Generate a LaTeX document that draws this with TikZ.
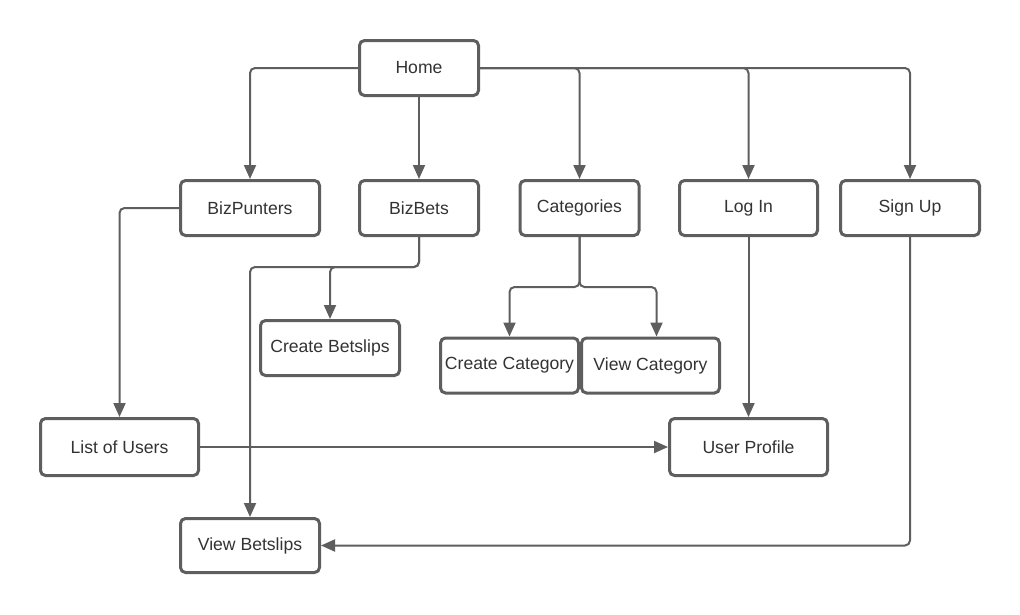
\documentclass[tikz,border=0pt]{standalone}
\usepackage{fontspec}
\setmainfont{Liberation Sans}
\usetikzlibrary{arrows.meta}
\definecolor{linegray}{HTML}{5E5E5E}
\definecolor{textgray}{HTML}{333333}
\begin{document}
\begin{tikzpicture}[x=1pt, y=-1pt,
  page/.style={draw=linegray, line width=3pt, rounded corners=5pt, fill=white,
    minimum width=139pt, minimum height=55pt, text=textgray,
    font=\fontsize{17.6}{20}\selectfont},
  link/.style={draw=linegray, line width=2pt, rounded corners=5pt,
    -{Triangle[length=14pt, width=12pt]}}]
\useasboundingbox (0,0) rectangle (1020,614);
\node[page, minimum width=119pt] (home) at (419,68) {Home};
\node[page] (punters) at (250,208) {BizPunters};
\node[page, minimum width=119pt] (bets) at (419,208) {BizBets};
\node[page, minimum width=119pt] (cats) at (579.5,208) {Categories};
\node[page, minimum width=138pt] (login) at (748.5,208) {Log In};
\node[page] (signup) at (910,208) {Sign Up};
\node[page] (newslip) at (330,348) {Create Betslips};
\node[page, minimum width=138pt] (newcat) at (509.5,365.5) {Create Category};
\node[page, minimum width=138pt] (viewcat) at (650.5,365.5) {View Category};
\node[page, minimum width=158pt, minimum height=57pt] (users) at (119.5,447) {List of Users};
\node[page, minimum width=158pt, minimum height=57pt] (profile) at (748.5,447) {User Profile};
\node[page, minimum height=54pt] (viewslip) at (250,545.5) {View Betslips};
% from the home page
\draw[link] (home.west) -| (punters.north);
\draw[link] (home.south) -- (bets.north);
\draw[link] (home.east) -| (cats.north);
\draw[link] (home.east) -| (login.north);
\draw[link] (home.east) -| (signup.north);
% second level
\draw[link] (punters.west) -| (users.north);
\draw[link] (bets.south) -- ++(0,30) -| (viewslip.north);
\draw[link] (bets.south) -- ++(0,30) -| (newslip.north);
\draw[link] (cats.south) -- ++(0,50) -| (newcat.north);
\draw[link] (cats.south) -- ++(0,50) -| ([xshift=6pt]viewcat.north);
\draw[link] (login.south) -- (profile.north);
\draw[link] (signup.south) |- (viewslip.east);
\draw[link] (users.east) -- (profile.west);
\end{tikzpicture}
\end{document}
